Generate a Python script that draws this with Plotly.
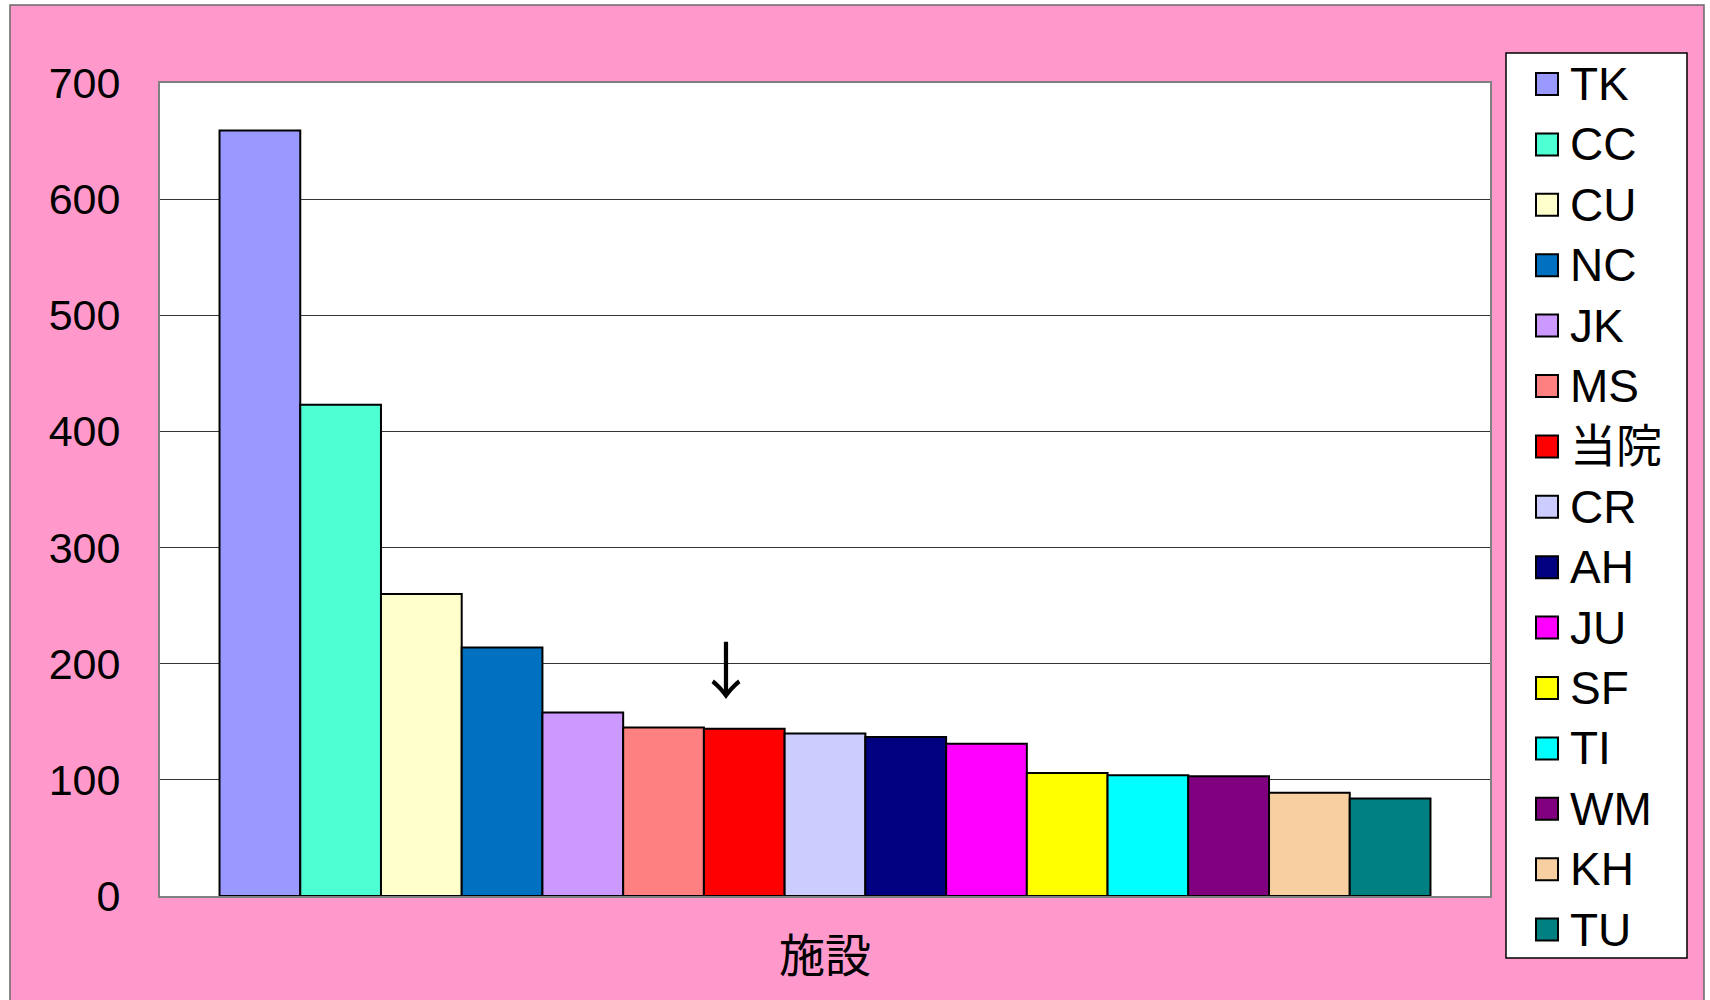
import plotly.graph_objects as go

# Facilities (one series each) and their counts
facilities = ["TK", "CC", "CU", "NC", "JK", "MS", "当院", "CR",
              "AH", "JU", "SF", "TI", "WM", "KH", "TU"]
counts = [659, 423, 260, 214, 158, 145, 144, 140, 137, 131, 106, 104, 103, 89, 84]
colors = ["#9999FF", "#4DFFD2", "#FFFFCC", "#0070C0", "#CC99FF", "#FF8080",
          "#FF0000", "#CCCCFF", "#000080", "#FF00FF", "#FFFF00", "#00FFFF",
          "#800080", "#F7CFA0", "#008080"]
category = ["施設"]
y_ticks = [0, 100, 200, 300, 400, 500, 600, 700]

FONT = "Liberation Sans, Arial, Noto Sans CJK JP, sans-serif"
W, H = 1710, 1000
L, R, T, B = 160, 1490, 83, 896   # plot area in page pixels


def px(x):
    return (x - L) / (R - L)


def py(y):
    return (B - y) / (B - T)


fig = go.Figure()
for name, val, col in zip(facilities, counts, colors):
    fig.add_trace(go.Bar(
        x=category, y=[val], name=name,
        marker=dict(color=col, line=dict(color="#000000", width=2)),
        showlegend=False,
    ))

shapes = [
    # pink chart background with thin frame
    dict(type="rect", xref="paper", yref="paper",
         x0=px(10), x1=px(1704), y0=py(1004), y1=py(5),
         fillcolor="#FF99CC", line=dict(color="#6a6a6a", width=1.5), layer="below"),
    # white plotting area
    dict(type="rect", xref="paper", yref="paper", x0=0, x1=1, y0=0, y1=1,
         fillcolor="#FFFFFF", line=dict(width=0), layer="below"),
    # legend box
    dict(type="rect", xref="paper", yref="paper",
         x0=px(1506), x1=px(1687), y0=py(958), y1=py(53),
         fillcolor="#FFFFFF", line=dict(color="#000000", width=1.5), layer="below"),
]

annotations = []
item_y0, item_step = 84, 60.4
for i, (name, col) in enumerate(zip(facilities, colors)):
    yc = item_y0 + i * item_step
    shapes.append(dict(type="rect", xref="paper", yref="paper",
                       x0=px(1536), x1=px(1558), y0=py(yc + 11), y1=py(yc - 11),
                       fillcolor=col, line=dict(color="#000000", width=2),
                       layer="above"))
    annotations.append(dict(xref="paper", yref="paper", x=px(1568), y=py(yc),
                            text=name, showarrow=False, xanchor="left",
                            yanchor="middle",
                            font=dict(family=FONT, size=46, color="#000000")))

# arrow pointing at 当院
annotations.append(dict(xref="paper", yref="paper", x=px(726), y=py(667),
                        text="↓", showarrow=False, xanchor="center",
                        yanchor="middle",
                        font=dict(family="Noto Sans CJK JP", size=62, color="#000000")))

fig.update_layout(
    width=W, height=H,
    margin=dict(l=L, r=W - R, t=T, b=H - B, pad=0, autoexpand=False),
    paper_bgcolor="#FFFFFF",
    plot_bgcolor="#FFFFFF",
    barmode="group",
    bargap=0.0895,
    bargroupgap=0,
    font=dict(family=FONT, color="#000000"),
    shapes=shapes,
    annotations=annotations,
    showlegend=False,
)

fig.update_xaxes(
    type="category",
    automargin=False,
    showgrid=False,
    showline=True, mirror=True, linecolor="#808080", linewidth=2,
    ticks="",
    tickfont=dict(family=FONT, size=46, color="#000000"),
    ticklabelstandoff=19,
)
fig.update_yaxes(
    range=[0, 700],
    automargin=False,
    tickvals=y_ticks,
    showgrid=True, gridcolor="#333333", gridwidth=1,
    zeroline=False,
    showline=True, mirror=True, linecolor="#808080", linewidth=2,
    ticks="inside", ticklen=13, tickcolor="#333333", tickwidth=1,
    tickfont=dict(family=FONT, size=43, color="#000000"),
    ticklabelstandoff=29,
)

fig.write_html("out.html")
